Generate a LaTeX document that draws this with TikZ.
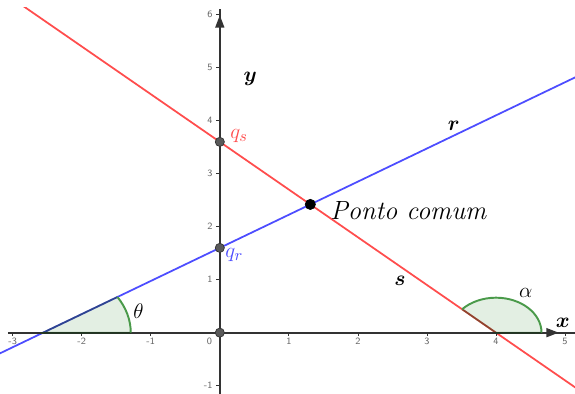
\documentclass[tikz,border=0pt]{standalone}
\usepackage{bm}
\usetikzlibrary{arrows.meta, positioning, calc}
\definecolor{ggred}{HTML}{FF4D4D}
\definecolor{ggblue}{HTML}{4D4DFF}
\definecolor{ggaxis}{HTML}{333333}
\definecolor{gggreen}{HTML}{4A9A4A}
\definecolor{ggfill}{HTML}{E3EFE3}
\definecolor{ggedge}{HTML}{0A3A0A}
\definecolor{gggray}{HTML}{5A5A5A}
\tikzset{
  axisline/.style={line width=1.1pt, ggaxis},
  axistip/.style={-{Triangle[length=7pt, width=5pt]}, line width=1.1pt, ggaxis},
  tickmark/.style={line width=0.4pt, ggaxis},
  ticklbl/.style={font=\sffamily\fontsize{5.5}{6}\selectfont, text=ggaxis!75, inner sep=1pt},
  rline/.style={line width=1pt, ggblue},
  sline/.style={line width=1pt, ggred},
  sector/.style={fill=ggfill},
  sectoredge/.style={line width=1pt, ggedge, draw opacity=0.45},
  anglearc/.style={line width=1.1pt, gggreen},
  pt/.style={circle, fill=gggray, draw=ggaxis, line width=0.4pt, inner sep=0pt, minimum size=5.2pt},
  lbl/.style={font=\fontsize{13}{15}\selectfont, inner sep=0pt},
}

\begin{document}
\begin{tikzpicture}[x=1.3808cm, y=1.06cm]
  \useasboundingbox (-3.184,-1.157) rectangle (5.145,6.277);
  \coordinate (Ar) at (-2.56,0);
  \coordinate (As) at (4,0);
  \coordinate (thEnd) at ($(Ar)+(1.27,0)$);
  \coordinate (alEnd) at ($(As)+(0.66,0)$);

  % angle sectors
  \fill[sector] (Ar) -- (thEnd) arc[start angle=0, end angle=32, radius=1.27] -- cycle;
  \fill[sector] (As) -- (alEnd) arc[start angle=0, end angle=138, radius=0.66] -- cycle;

  % lines r and s
  \begin{scope}
    \clip (-3.184,-1.157) rectangle (5.145,6.126);
    \coordinate (rA) at (-3.3,-0.4625);
    \coordinate (rB) at (5.3,4.9125);
    \coordinate (sA) at (-3.1,6.39);
    \coordinate (sB) at (5.3,-1.17);
    \draw[rline] (rA) -- (rB);
    \draw[sline] (sA) -- (sB);
  \end{scope}

  % axes
  \coordinate (xL) at (-3.07,0);
  \coordinate (xR) at (5.145,0);
  \coordinate (yB) at (0,-1.157);
  \coordinate (yT) at (0,6.11);
  \draw[axisline] (xL) -- (xR);
  \draw[axisline] (yB) -- (yT);
  \draw[axistip] (4.6,0) -- (4.91,0);
  \draw[axistip] (0,5.6) -- (0,5.99);
  \foreach \i in {-3,-2,-1,1,2,3,4,5} {
    \draw[tickmark] (\i,0) -- ++(0,-0.07);
    \node[ticklbl, below=2pt] at (\i,0) {\i};
  }
  \foreach \j in {-1,1,2,3,4,5,6} {
    \draw[tickmark] (0,\j) -- ++(-0.05,0);
    \node[ticklbl, left=3pt] at (0,\j) {\j};
  }
  \node[ticklbl] at (-0.15,-0.16) {0};

  % angle edges and arcs
  \draw[sectoredge] (thEnd) -- (Ar) -- ++(1.077,0.673);
  \draw[sectoredge] (alEnd) -- (As) -- ++(-0.490,0.442);
  \draw[anglearc] (thEnd) arc[start angle=0, end angle=32, radius=1.27];
  \draw[anglearc] (alEnd) arc[start angle=0, end angle=138, radius=0.66];

  % points
  \node[pt] (O) at (0,0) {};
  \node[pt] (qr) at (0,1.6) {};
  \node[pt] (qs) at (0,3.6) {};
  \node[pt, fill=black, draw=black, minimum size=5.8pt] (P) at (1.311,2.42) {};

  % labels
  \node[lbl] (ylbl) at (0.44,4.78) {$\bm{y}$};
  \node[lbl] (xlbl) at (4.97,0.18) {$\bm{x}$};
  \node[lbl] (rlbl) at (3.39,3.90) {$\bm{r}$};
  \node[lbl] (slbl) at (2.61,0.98) {$\bm{s}$};
  \node[lbl, text=ggred] (qslbl) at (0.28,3.72) {$q_s$};
  \node[lbl, text=ggblue] (qrlbl) at (0.21,1.47) {$q_r$};
  \node[lbl] (thlbl) at (-1.18,0.40) {$\theta$};
  \node[lbl] (allbl) at (4.43,0.75) {$\alpha$};
  \node[lbl, font=\fontsize{15}{18}\selectfont\itshape] (pclbl) at (2.73,2.31) {Ponto comum};
\end{tikzpicture}
\end{document}
